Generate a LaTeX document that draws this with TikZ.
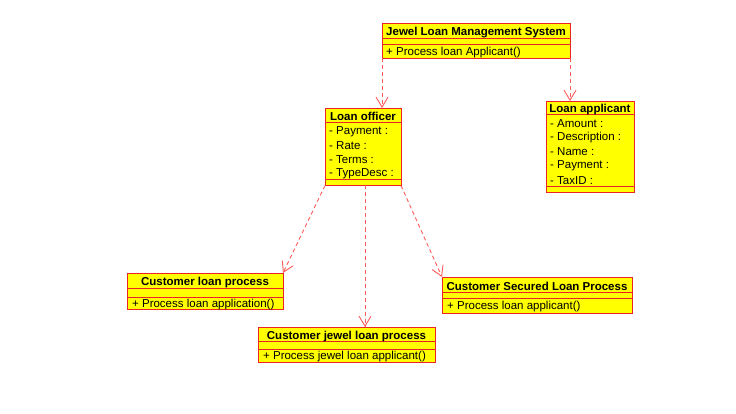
\documentclass[tikz,border=0pt]{standalone}
\usepackage{fontspec}
\setmainfont{Liberation Sans}
\usetikzlibrary{arrows.meta,positioning}

\definecolor{umlfill}{RGB}{255,255,0}
\definecolor{umlline}{RGB}{235,35,35}
\definecolor{deplink}{RGB}{255,90,90}

\tikzset{
    classbox/.style={rectangle, draw=umlline, fill=umlfill, line width=0.9pt, inner sep=0pt, outer sep=0pt, anchor=north west},
    classtitle/.style={font=\bfseries\fontsize{11.5}{13}\selectfont, inner sep=0pt, yshift=-1.7pt},
    classitem/.style={font=\fontsize{11.5}{13}\selectfont, inner sep=0pt, anchor=west, yshift=-1.3pt},
    divider/.style={draw=umlline, line width=0.9pt},
    dep/.style={draw=deplink, line width=0.9pt, dash pattern=on 4pt off 3pt, -{Straight Barb[length=10pt,width=12pt]}}
}

\begin{document}
\begin{tikzpicture}[x=1pt,y=-1pt]
    \useasboundingbox (0,0) rectangle (736,414);
    \begin{scope}
        % Top class
        \node[classbox, minimum width=188pt, minimum height=35pt] (jlms) at (382,23) {};
        \draw[divider] (382,38) -- (570,38);
        \draw[divider] (382,44) -- (570,44);
        \node[classtitle] (jlmsname) at (476,30.5) {Jewel Loan Management System};
        \node[classitem] (jlmsop) at (386,51) {+ Process loan Applicant()};

        % Loan officer
        \node[classbox, minimum width=76pt, minimum height=77.5pt] (officer) at (325,108) {};
        \draw[divider] (325,122) -- (401,122);
        \draw[divider] (325,179.5) -- (401,179.5);
        \node[classtitle] (officername) at (363,115) {Loan officer};
        \node[classitem] (officerpay) at (329,130) {- Payment :};
        \node[classitem] (officerrate) at (329,144) {- Rate :};
        \node[classitem] (officerterms) at (329,158) {- Terms :};
        \node[classitem] (officertype) at (329,172) {- TypeDesc :};

        % Loan applicant
        \node[classbox, minimum width=88pt, minimum height=91pt] (applicant) at (546,101) {};
        \draw[divider] (546,114.5) -- (634,114.5);
        \draw[divider] (546,186) -- (634,186);
        \node[classtitle] (applicantname) at (590,108) {Loan applicant};
        \node[classitem] (applicantamount) at (550,122) {- Amount :};
        \node[classitem] (applicantdesc) at (550,136.3) {- Description :};
        \node[classitem] (applicantname2) at (550,150.6) {- Name :};
        \node[classitem] (applicantpay) at (550,164.9) {- Payment :};
        \node[classitem] (applicanttax) at (550,179.2) {- TaxID :};

        % Process classes
        \node[classbox, minimum width=156pt, minimum height=36pt] (clp) at (127,273) {};
        \draw[divider] (127,288) -- (283,288);
        \draw[divider] (127,297) -- (283,297);
        \node[classtitle] (clpname) at (205,280.5) {Customer loan process};
        \node[classitem] (clpop) at (132,303) {+ Process loan application()};

        \node[classbox, minimum width=190pt, minimum height=36pt] (csl) at (442,277) {};
        \draw[divider] (442,292) -- (632,292);
        \draw[divider] (442,298.5) -- (632,298.5);
        \node[classtitle] (cslname) at (537,284.5) {Customer Secured Loan Process};
        \node[classitem] (cslop) at (447,305.5) {+ Process loan applicant()};

        \node[classbox, minimum width=177pt, minimum height=35pt] (cjl) at (258,327) {};
        \draw[divider] (258,341.5) -- (435,341.5);
        \draw[divider] (258,349) -- (435,349);
        \node[classtitle] (cjlname) at (346.5,334.5) {Customer jewel loan process};
        \node[classitem] (cjlop) at (263,355.5) {+ Process jewel loan applicant()};

        % Dependencies
        \draw[dep] (jlms.south west) -- (jlms.south west |- officer.north);
        \draw[dep] (jlms.south east) -- (jlms.south east |- applicant.north);
        \draw[dep] (officer.south west) -- (clp.north east);
        \draw[dep] ([xshift=2pt]officer.south) -- ([xshift=2pt]officer.south |- cjl.north);
        \draw[dep] (officer.south east) -- (csl.north west);
    \end{scope}
\end{tikzpicture}
\end{document}
